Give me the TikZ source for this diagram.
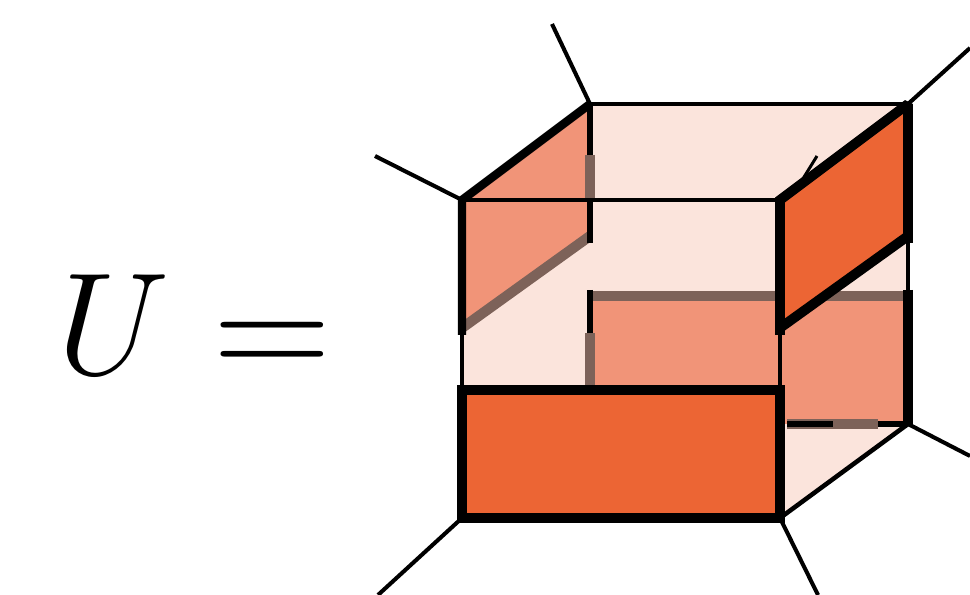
\documentclass[tikz,border=0pt]{standalone}
\usepackage{xcolor}
\definecolor{cubelight}{RGB}{251,228,220}
\definecolor{cubemid}{RGB}{241,148,120}
\definecolor{cubedark}{RGB}{236,101,52}
\definecolor{cubeshade}{RGB}{125,98,89}
\tikzset{
  thinedge/.style={black,line width=2.6pt},
  legedge/.style={black,line width=2.3pt},
  stubedge/.style={black,line width=1.7pt},
  backedge/.style={black,line width=3.6pt},
  shadeedge/.style={cubeshade,line width=5.8pt},
  heavyedge/.style={black,line width=5.6pt,line join=miter,miter limit=2},
  symbol/.style={inner sep=0pt,font=\Huge,scale=3.336},
  eqsymbol/.style={inner sep=0pt,font=\Huge,scale=3.74}
}
\begin{document}
\begin{tikzpicture}
  \useasboundingbox (0,0) rectangle (19.4,11.9);

  % --- cube corners ---
  \coordinate (frontTL) at (9.24,7.9);
  \coordinate (frontTR) at (15.6,7.9);
  \coordinate (frontBR) at (15.6,1.54);
  \coordinate (frontBL) at (9.24,1.54);
  \coordinate (backTL) at (11.8,9.82);
  \coordinate (backTR) at (18.16,9.82);
  \coordinate (backBR) at (18.16,3.42);

  % --- points on the edges ---
  \coordinate (leftLow) at (9.24,5.34);
  \coordinate (leftEnd) at (9.24,5.2);
  \coordinate (backLow) at (11.8,7.18);
  \coordinate (backEnd) at (11.8,7.04);
  \coordinate (backMid) at (11.8,5.98);
  \coordinate (backMidTop) at (11.8,6.1);
  \coordinate (rightMid) at (18.16,5.98);
  \coordinate (rightMidTop) at (18.16,6.1);
  \coordinate (frontLow) at (15.6,5.34);
  \coordinate (frontEnd) at (15.6,5.2);
  \coordinate (rightLow) at (18.16,7.18);
  \coordinate (rightEnd) at (18.16,7.04);
  \coordinate (frontSlab) at (15.6,4.1);
  \coordinate (leftSlab) at (9.24,4.1);
  \coordinate (floorMid) at (15.6,3.42);
  \coordinate (backSlab) at (11.8,4.1);

  % --- dash ends on the hidden edges ---
  \coordinate (upperDashA) at (11.8,8.8);
  \coordinate (upperDashB) at (11.8,7.9);
  \coordinate (lowerDashA) at (11.8,5.24);
  \coordinate (lowerDashB) at (11.8,4.2);
  \coordinate (floorDashA) at (15.74,3.42);
  \coordinate (floorDashB) at (16.66,3.42);
  \coordinate (floorDashC) at (17.56,3.42);

  % --- free ends of the legs ---
  \coordinate (legTL) at (7.5,8.78);
  \coordinate (legBackTL) at (11.04,11.42);
  \coordinate (legBackTR) at (19.4,10.94);
  \coordinate (legBackBR) at (19.4,2.78);
  \coordinate (legBL) at (7.56,0);
  \coordinate (legBR) at (16.36,0);
  \coordinate (stubStart) at (15.76,7.84);
  \coordinate (stubEnd) at (16.34,8.78);

  % --- light body of the cube ---
  \fill[cubelight] (frontBL) -- (frontTL) -- (backTL) -- (backTR) -- (backBR) -- (frontBR) -- cycle;

  % --- middle panels ---
  \fill[cubemid] (frontTL) -- (backTL) -- (backLow) -- (leftLow) -- cycle;
  \fill[cubemid] (backMid) -- (rightMid) -- (backBR) -- (floorMid) -- (frontSlab) -- (backSlab) -- cycle;

  % --- shaded hidden edges ---
  \draw[shadeedge] (leftLow) -- (backLow);
  \draw[shadeedge] (backMid) -- (rightMid);
  \draw[shadeedge] (upperDashA) -- (upperDashB);
  \draw[shadeedge] (lowerDashA) -- (lowerDashB);
  \draw[shadeedge] (floorDashA) -- (floorDashC);

  % --- black dashes on the hidden edges ---
  \draw[backedge] (backTL) -- (upperDashA);
  \draw[backedge] (upperDashB) -- (backEnd);
  \draw[backedge] (backMidTop) -- (lowerDashA);
  \draw[backedge] (lowerDashB) -- (backSlab);
  \draw[backedge] (floorDashA) -- (floorDashB);
  \draw[backedge] (floorDashC) -- (backBR);

  % --- thin edges ---
  \draw[thinedge] (backTL) -- (backTR);
  \draw[thinedge] (frontTL) -- (frontTR);
  \draw[thinedge] (leftEnd) -- (leftSlab);
  \draw[thinedge] (frontEnd) -- (frontSlab);
  \draw[thinedge] (rightEnd) -- (rightMid);
  \draw[thinedge] (frontBR) -- (backBR);

  % --- legs ---
  \draw[legedge] (frontTL) -- (legTL);
  \draw[legedge] (backTL) -- (legBackTL);
  \draw[legedge] (backTR) -- (legBackTR);
  \draw[legedge] (backBR) -- (legBackBR);
  \draw[legedge] (frontBL) -- (legBL);
  \draw[legedge] (frontBR) -- (legBR);
  \draw[stubedge] (stubStart) -- (stubEnd);

  % --- heavy edges of the left and right sides ---
  \draw[black,line width=4.8pt] (leftEnd) -- (frontTL) -- (backTL);
  \draw[black,line width=5.2pt] (rightMidTop) -- (backBR);

  % --- dark panels ---
  \draw[heavyedge,fill=cubedark] (frontTR) -- (backTR) -- (rightLow) -- (frontLow) -- cycle;
  \draw[heavyedge] (frontLow) -- (frontEnd);
  \draw[heavyedge] (rightLow) -- (rightEnd);
  \draw[heavyedge,fill=cubedark] (leftSlab) -- (frontSlab) -- (frontBR) -- (frontBL) -- cycle;

  % --- equation ---
  \node[symbol] (lhs) at (2.28,5.41) {$U$};
  \node[eqsymbol] (eq) at (5.44,4.88) {$=$};
\end{tikzpicture}
\end{document}
